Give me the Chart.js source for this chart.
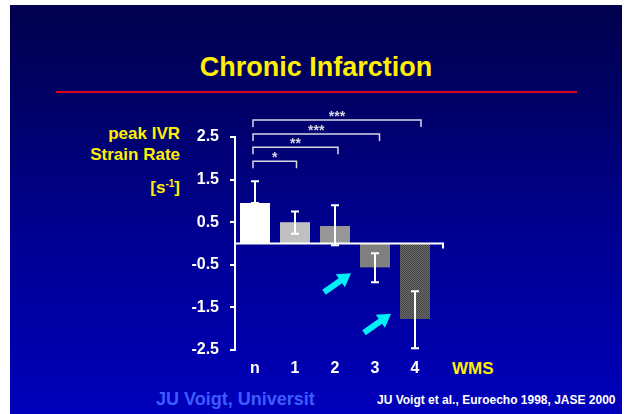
<!DOCTYPE html>
<html>
<head>
<meta charset="utf-8">
<script src="https://cdn.jsdelivr.net/npm/chart.js@4.4.0/dist/chart.umd.min.js"></script>
<style>
  html, body { margin:0; padding:0; background:#fff; width:632px; height:414px; overflow:hidden; }
  body { position:relative; font-family:"Liberation Sans", Arial, sans-serif; font-weight:bold; }
  #slide { position:absolute; left:10px; top:5px; width:612px; height:409px;
    background:linear-gradient(to bottom, #00004e 0%, #000068 25%, #000090 55%, #0000bc 100%); }
  .txt { position:absolute; white-space:nowrap; }
  #title { left:0; width:632px; text-align:center; top:54px; font-size:27px; line-height:27px; color:#ffef00; }
  #rule { position:absolute; left:56px; top:91px; width:521px; height:2px; background:#e0001c; }
  .ylab { right:452px; font-size:17px; line-height:17px; color:#ffef00; text-align:right; }
  #wms { left:452px; top:360px; font-size:17px; line-height:17px; color:#ffef00; }
  #author { left:156px; top:390px; font-size:18px; line-height:18px; color:#3c5cff; }
  #cite { left:377px; top:394px; font-size:12px; line-height:12px; color:#fff; }
  #c { position:absolute; left:0; top:0; }
  sup { font-size:10px; vertical-align:6px; line-height:0; }
</style>
</head>
<body>
<div id="slide"></div>
<div id="rule"></div>
<div class="txt" id="title">Chronic Infarction</div>
<div class="txt ylab" style="top:125px">peak IVR</div>
<div class="txt ylab" style="top:146px">Strain Rate</div>
<div class="txt ylab" style="top:179px">[s<sup>-1</sup>]</div>
<div class="txt" id="wms">WMS</div>
<div class="txt" id="author">JU Voigt, Universit</div>
<div class="txt" id="cite">JU Voigt et al., Euroecho 1998, JASE 2000</div>
<canvas id="c" width="632" height="414"></canvas>
<script>
// data
const categories = ['n', '1', '2', '3', '4'];
const meanValues = [0.95, 0.50, 0.41, -0.56, -1.77];
const errLow  = [0.95, 0.23, -0.04, -0.91, -2.46];
const errHigh = [1.46, 0.75, 0.90, -0.23, -1.12];
const yTicks = [-2.5, -1.5, -0.5, 0.5, 1.5, 2.5];

// significance brackets: from category a to category b
const sigFrom = [0, 0, 0, 0];
const sigTo = [1, 2, 3, 4];
const sigLabels = ['*', '**', '***', '***'];
const sigLevels = [1.93, 2.26, 2.57, 2.90];

// cyan arrows pointing at bars
const arrowTargets = [3, 4];
const arrowValues = [-0.70, -1.65];

function checker(){
  const c = document.createElement('canvas');
  c.width = 2; c.height = 2;
  const g = c.getContext('2d');
  g.fillStyle = '#6c6c6c'; g.fillRect(0,0,2,2);
  g.fillStyle = '#424242'; g.fillRect(0,0,1,1); g.fillRect(1,1,1,1);
  return g.createPattern(c, 'repeat');
}

const barColors = ['#ffffff', '#c0c0c0', '#979797', '#808080', checker()];
const FONT = 'Liberation Sans, Arial, sans-serif';

const overlay = {
  id: 'overlay',
  afterDatasetsDraw(chart){
    const {ctx, chartArea, scales:{x, y}} = chart;
    ctx.save();
    ctx.strokeStyle = '#ffffff';
    ctx.lineWidth = 2;

    // zero axis line with end tick
    const y0 = y.getPixelForValue(0);
    const xEnd = chartArea.right + 8;
    ctx.beginPath();
    ctx.moveTo(chartArea.left, y0);
    ctx.lineTo(xEnd, y0);
    ctx.lineTo(xEnd, y0 + 5);
    ctx.stroke();

    // error bars
    categories.forEach((c, i) => {
      const cx = x.getPixelForValue(i);
      const yl = y.getPixelForValue(errLow[i]);
      const yh = y.getPixelForValue(errHigh[i]);
      ctx.beginPath();
      ctx.moveTo(cx, yl); ctx.lineTo(cx, yh);
      ctx.moveTo(cx - 4, yh); ctx.lineTo(cx + 4, yh);
      ctx.moveTo(cx - 4, yl); ctx.lineTo(cx + 4, yl);
      ctx.stroke();
    });

    // significance brackets
    ctx.strokeStyle = '#d8d8e6';
    ctx.fillStyle = '#d8d8e6';
    ctx.lineWidth = 1.5;
    ctx.font = 'bold 14px ' + FONT;
    ctx.textAlign = 'center';
    ctx.textBaseline = 'alphabetic';
    sigLabels.forEach((lab, k) => {
      const xl = x.getPixelForValue(sigFrom[k]) - 2;
      const xr = x.getPixelForValue(sigTo[k]) + 1.5 * sigTo[k];
      const ly = y.getPixelForValue(sigLevels[k]);
      ctx.beginPath();
      ctx.moveTo(xl, ly + 7); ctx.lineTo(xl, ly);
      ctx.lineTo(xr, ly); ctx.lineTo(xr, ly + 7);
      ctx.stroke();
      ctx.fillText(lab, (xl + xr) / 2, ly + 1);
    });

    // arrows
    ctx.fillStyle = '#00f0f8';
    arrowTargets.forEach((idx, k) => {
      const tx = x.getPixelForValue(idx) - 24;
      const ty = y.getPixelForValue(arrowValues[k]);
      const dx = 27, dy = -19;
      const len = Math.hypot(dx, dy);
      const ux = dx / len, uy = dy / len;
      const px = -uy, py = ux;
      const head = 13, hw = 8, sw = 3;
      const bx = tx - ux * head, by = ty - uy * head;
      const sx = tx - dx, sy = ty - dy;
      ctx.beginPath();
      ctx.moveTo(sx + px * sw, sy + py * sw);
      ctx.lineTo(bx + px * sw, by + py * sw);
      ctx.lineTo(bx + px * hw, by + py * hw);
      ctx.lineTo(tx, ty);
      ctx.lineTo(bx - px * hw, by - py * hw);
      ctx.lineTo(bx - px * sw, by - py * sw);
      ctx.lineTo(sx - px * sw, sy - py * sw);
      ctx.closePath();
      ctx.fill();
    });
    ctx.restore();
  }
};

new Chart(document.getElementById('c'), {
  type: 'bar',
  data: {
    labels: categories,
    datasets: [{
      data: meanValues,
      backgroundColor: barColors,
      borderWidth: 0,
      barPercentage: 0.75,
      categoryPercentage: 1
    }]
  },
  options: {
    responsive: false,
    animation: false,
    devicePixelRatio: 1,
    layout: { padding: { left: 190, right: 197, top: 137, bottom: 34 } },
    plugins: { legend: { display: false }, tooltip: { enabled: false } },
    scales: {
      x: {
        grid: { display: false, drawTicks: false },
        border: { display: false },
        ticks: { color: '#ffffff', padding: 9, font: { family: FONT, size: 16, weight: 'bold' } },
        afterFit(s){ s.height = 30; }
      },
      y: {
        min: -2.5,
        max: 2.5,
        afterBuildTicks(s){ s.ticks = yTicks.map(v => ({ value: v })); },
        grid: { display: true, drawOnChartArea: false, drawTicks: true, tickLength: 5, color: '#ffffff', lineWidth: 2 },
        border: { display: true, color: '#ffffff', width: 2 },
        ticks: {
          color: '#ffffff', padding: 11,
          font: { family: FONT, size: 16, weight: 'bold' },
          callback: v => v.toFixed(1)
        },
        afterFit(s){ s.width = 45; }
      }
    }
  },
  plugins: [overlay]
});
</script>
</body>
</html>
